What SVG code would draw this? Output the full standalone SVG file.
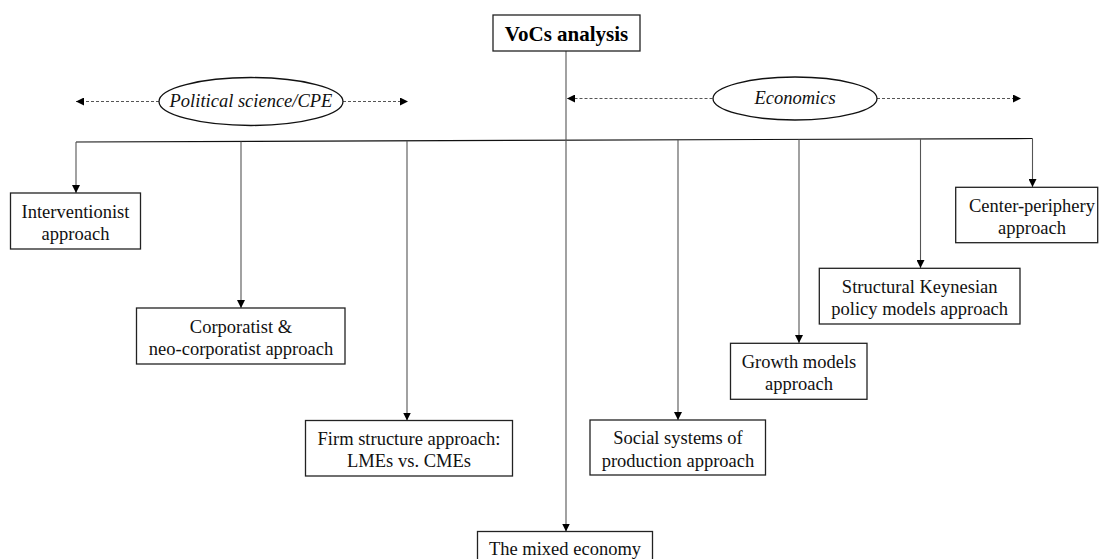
<svg xmlns="http://www.w3.org/2000/svg" width="1099" height="559" viewBox="0 0 1099 559">
<defs>
<marker id="ah" viewBox="0 0 10 10" refX="10" refY="5" markerWidth="8" markerHeight="8" markerUnits="userSpaceOnUse" orient="auto">
<path d="M0,0 L10,5 L0,10 Z" fill="#000"/>
</marker>
<style>
.box{fill:#fff;stroke:#222;stroke-width:1.3}
.t{font-family:"Liberation Serif","Times New Roman",serif;font-size:18.5px;fill:#111;text-anchor:middle}
.ti{font-family:"Liberation Serif","Times New Roman",serif;font-size:18.5px;font-style:italic;fill:#111;text-anchor:middle}
.tb{font-family:"Liberation Serif","Times New Roman",serif;font-size:21px;font-weight:bold;fill:#000;text-anchor:middle}
.drop{stroke:#555;stroke-width:1.1;fill:none;marker-end:url(#ah)}
.dash{stroke:#555;stroke-width:1;stroke-dasharray:3 2;fill:none;marker-end:url(#ah)}
.ell{fill:#fff;stroke:#111;stroke-width:1.3}
</style>
</defs>
<g id="connectors">
<line x1="76" y1="142" x2="1032.5" y2="138.5" stroke="#111" stroke-width="1.2"/>
<line class="drop" x1="566" y1="51" x2="566" y2="531.5"/>
<line class="drop" x1="76" y1="142" x2="76" y2="193"/>
<line class="drop" x1="241" y1="141.4" x2="241" y2="308"/>
<line class="drop" x1="407" y1="140.8" x2="407" y2="420.5"/>
<line class="drop" x1="678" y1="139.8" x2="678" y2="420"/>
<line class="drop" x1="799" y1="139.4" x2="799" y2="343"/>
<line class="drop" x1="920.5" y1="138.9" x2="920.5" y2="268"/>
<line class="drop" x1="1032.5" y1="138.5" x2="1032.5" y2="187"/>
<line class="dash" x1="159" y1="101.5" x2="76" y2="101.5"/>
<line class="dash" x1="343" y1="101.5" x2="408" y2="101.5"/>
<line class="dash" x1="712.5" y1="98.5" x2="567" y2="98.5"/>
<line class="dash" x1="877" y1="98.5" x2="1021" y2="98.5"/>
</g>
<g id="vocs">
<rect class="box" x="493" y="15" width="147" height="36"/>
<text class="tb" x="566.5" y="41">VoCs analysis</text>
</g>
<g id="polsci">
<ellipse class="ell" cx="251" cy="101.5" rx="92" ry="24"/>
<text class="ti" x="251" y="107">Political science/CPE</text>
</g>
<g id="economics">
<ellipse class="ell" cx="795" cy="98.5" rx="82" ry="21.5"/>
<text class="ti" x="795" y="103.5">Economics</text>
</g>
<g id="interventionist">
<rect class="box" x="10.5" y="193" width="130" height="56"/>
<text class="t" x="75.5" y="217.5">Interventionist</text>
<text class="t" x="75.5" y="240">approach</text>
</g>
<g id="corporatist">
<rect class="box" x="136.5" y="308" width="208.5" height="56"/>
<text class="t" x="241" y="332.5">Corporatist &amp;</text>
<text class="t" x="241" y="355">neo-corporatist approach</text>
</g>
<g id="firm">
<rect class="box" x="305.5" y="420.5" width="207" height="55.5"/>
<text class="t" x="409" y="444.5">Firm structure approach:</text>
<text class="t" x="409" y="467">LMEs vs. CMEs</text>
</g>
<g id="mixed">
<rect class="box" x="477.5" y="531.5" width="175" height="40"/>
<text class="t" x="565" y="555">The mixed economy</text>
</g>
<g id="social">
<rect class="box" x="590" y="420" width="175.5" height="55"/>
<text class="t" x="678" y="444">Social systems of</text>
<text class="t" x="678" y="466.5">production approach</text>
</g>
<g id="growth">
<rect class="box" x="730.5" y="343.3" width="136.5" height="56"/>
<text class="t" x="799" y="367.5">Growth models</text>
<text class="t" x="799" y="390">approach</text>
</g>
<g id="structural">
<rect class="box" x="819.3" y="268.3" width="200.7" height="55.7"/>
<text class="t" x="919.7" y="292.5">Structural Keynesian</text>
<text class="t" x="919.7" y="315">policy models approach</text>
</g>
<g id="center">
<rect class="box" x="955.7" y="187.3" width="142" height="55.4"/>
<text class="t" x="1032" y="211.5">Center-periphery</text>
<text class="t" x="1032" y="234">approach</text>
</g>
</svg>
